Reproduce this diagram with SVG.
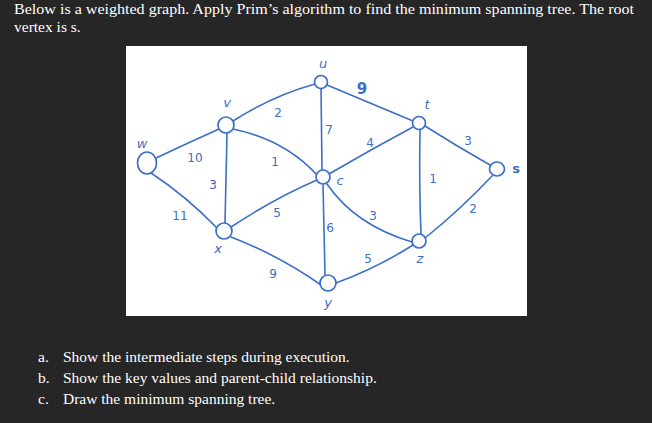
<svg xmlns="http://www.w3.org/2000/svg" width="652" height="423" viewBox="0 0 652 423">
<style>
.t{font-family:"Liberation Serif","Times New Roman",serif;font-size:15.5px;fill:#ffffff}
.e{fill:none;stroke:#3b6fc8;stroke-width:1.6;stroke-linecap:round}
.n{fill:#ffffff;stroke:#3b6fc8;stroke-width:1.7}
.w{font-family:"DejaVu Sans","Liberation Sans",sans-serif;font-size:12px;fill:#3b6fc8;text-anchor:middle;dominant-baseline:central}
.l{font-family:"DejaVu Sans","Liberation Sans",sans-serif;font-size:13px;fill:#3b6fc8;text-anchor:middle;dominant-baseline:central;font-style:italic}
</style>
<rect x="0" y="0" width="652" height="423" fill="#262626"/>
<text class="t" x="14" y="14" textLength="620" lengthAdjust="spacingAndGlyphs">Below is a weighted graph. Apply Prim’s algorithm to find the minimum spanning tree. The root</text>
<text class="t" x="14" y="32">vertex is s.</text>
<rect x="126" y="46" width="401" height="270" fill="#ffffff"/>
<g id="edges">
<path class="e" d="M156,158 Q188,143 219,129"/>
<path class="e" d="M233,121 Q272,96 315,84"/>
<path class="e" d="M233,129 Q285,140 317,175"/>
<path class="e" d="M227,133 L225,223"/>
<path class="e" d="M151,173 Q186,196 217,228"/>
<path class="e" d="M231,227 Q275,198 317,180"/>
<path class="e" d="M231,237 Q280,256 321,285"/>
<path class="e" d="M321,88 L322,170"/>
<path class="e" d="M327,85 Q370,103 413,121"/>
<path class="e" d="M329,174 Q370,150 413,127"/>
<path class="e" d="M420,130 Q419,185 421,234"/>
<path class="e" d="M425,126 Q458,147 490,165"/>
<path class="e" d="M425,238 Q460,210 492,176"/>
<path class="e" d="M327,184 Q355,225 412,242"/>
<path class="e" d="M323,185 L325,275"/>
<path class="e" d="M336,283 Q377,268 413,245"/>
<text class="w" x="195" y="158">10</text>
<text class="w" x="180" y="216">11</text>
<text class="w" x="213" y="185" style="fill:#5a50c2">3</text>
<text class="w" x="278" y="113">2</text>
<text class="w" x="275" y="162">1</text>
<text class="w" x="329" y="130">7</text>
<text class="w" x="370" y="143">4</text>
<text class="w" x="277" y="213">5</text>
<text class="w" x="373" y="216">3</text>
<text class="w" x="330" y="228">6</text>
<text class="w" x="362" y="89" style="font-size:15px;font-weight:bold">9</text>
<text class="w" x="468" y="141">3</text>
<text class="w" x="433" y="179">1</text>
<text class="w" x="473" y="209">2</text>
<text class="w" x="273" y="274">9</text>
<text class="w" x="368" y="259">5</text>
</g>
<g id="node-w"><ellipse class="n" cx="147" cy="163" rx="9.5" ry="11"/><text class="l" x="142" y="143">w</text></g>
<g id="node-v"><circle class="n" cx="226" cy="125" r="8"/><text class="l" x="227" y="102">v</text></g>
<g id="node-u"><circle class="n" cx="321" cy="82" r="6.5"/><text class="l" x="323" y="63">u</text></g>
<g id="node-t"><circle class="n" cx="419" cy="123" r="6.5"/><text class="l" x="427" y="104">t</text></g>
<g id="node-s"><ellipse class="n" cx="497" cy="169" rx="7.5" ry="7"/><text class="l" x="516" y="168" style="font-style:normal;font-weight:bold">s</text></g>
<g id="node-c"><circle class="n" cx="323" cy="177" r="7"/><text class="l" x="340" y="180">c</text></g>
<g id="node-x"><circle class="n" cx="224" cy="231" r="8"/><text class="l" x="218" y="248">x</text></g>
<g id="node-z"><circle class="n" cx="419" cy="241" r="7"/><text class="l" x="420" y="258">z</text></g>
<g id="node-y"><circle class="n" cx="328" cy="283" r="8"/><text class="l" x="328" y="302">y</text></g>
<text class="t" x="38" y="362">a.</text>
<text class="t" x="63" y="362">Show the intermediate steps during execution.</text>
<text class="t" x="38" y="383">b.</text>
<text class="t" x="63" y="383">Show the key values and parent-child relationship.</text>
<text class="t" x="38" y="404">c.</text>
<text class="t" x="63" y="404">Draw the minimum spanning tree.</text>
</svg>
